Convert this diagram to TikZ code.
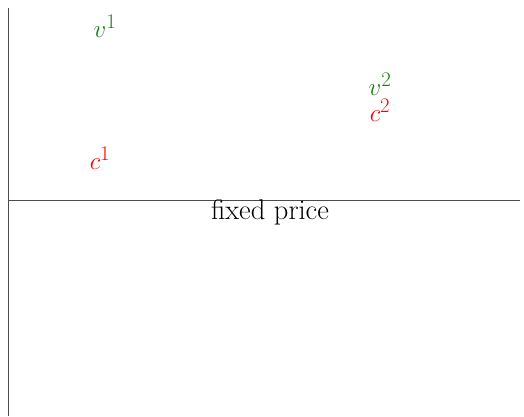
\documentclass[tikz,border=0pt]{standalone}
\begin{document}
\begin{tikzpicture}[x=1pt,y=-1pt,
  lbl/.style={inner sep=0pt,font=\fontsize{28.5}{32}\selectfont},
  val/.style={lbl,text={rgb,255:red,20;green,130;blue,20}},
  cost/.style={lbl,text=red},
  axis/.style={draw=black!70,line width=0.9pt}]
\useasboundingbox (0,0) rectangle (524,416);
\coordinate (ytop) at (8.5,8);
\coordinate (ybot) at (8.5,416);
\coordinate (xl) at (8.5,200);
\coordinate (xr) at (520,200);
\draw[axis] (ytop) -- (ybot);
\draw[axis] (xl) -- (xr);
\node[val] (v1) at (105,26) {$v^1$};
\node[cost] (c1) at (100,158) {$c^1$};
\node[val] (v2) at (380,84) {$v^2$};
\node[cost] (c2) at (380,110) {$c^2$};
\node[lbl] (fp) at (270,212) {fixed price};
\end{tikzpicture}
\end{document}
